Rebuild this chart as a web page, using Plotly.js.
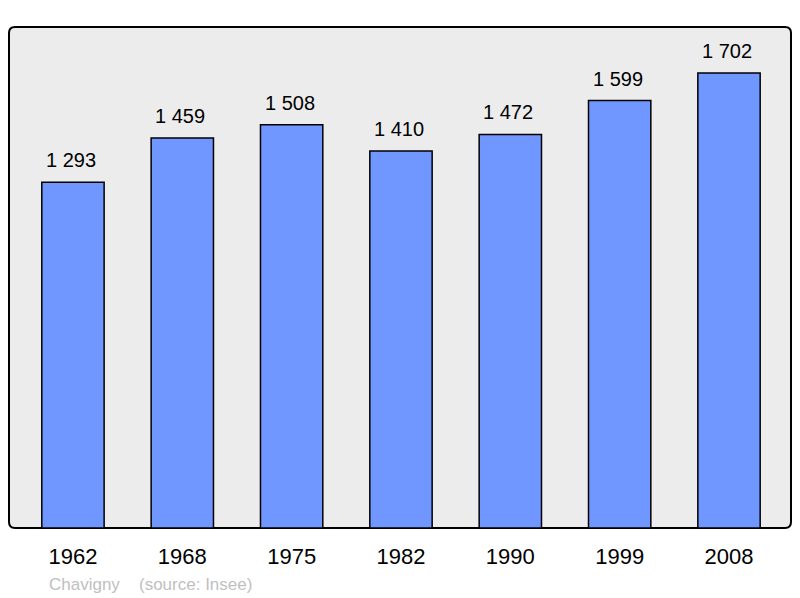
<!DOCTYPE html>
<html>
<head>
<meta charset="utf-8">
<script src="https://cdn.plot.ly/plotly-3.0.1.min.js"></script>
<style>
  html, body { margin: 0; padding: 0; background: #fff; }
  #chart { width: 800px; height: 598px; }
</style>
</head>
<body>
<div id="chart"></div>
<script>
var years = ['1962', '1968', '1975', '1982', '1990', '1999', '2008'];
var population = [1293, 1459, 1508, 1410, 1472, 1599, 1702];
var placeName = 'Chavigny';
var sourceText = '(source: Insee)';

function fmt(n) {
	return String(n).replace(/\B(?=(\d{3})+(?!\d))/g, ' ');
}

// rounded frame around the plot area, in paper units
function roundedFrame(rx, ry) {
	return 'M ' + rx + ' 0 L ' + (1 - rx) + ' 0 Q 1 0 1 ' + ry +
		' L 1 ' + (1 - ry) + ' Q 1 1 ' + (1 - rx) + ' 1' +
		' L ' + rx + ' 1 Q 0 1 0 ' + (1 - ry) +
		' L 0 ' + ry + ' Q 0 0 ' + rx + ' 0 Z';
}

var data = [ {
	x : years,
	y : population,
	type : 'bar',
	width : 0.57,
	marker : {
		color : '#7096ff',
		line : { color : '#000', width : 1.5 }
	},
	hoverinfo : 'none'
} ];

// category axis: annotations use the serial index
var labels = population.map(function(v, i) {
	return {
		x : i,
		y : v,
		text : fmt(v),
		showarrow : false,
		yanchor : 'middle',
		yshift : 22,
		xshift : -2,
		font : { size : 20, color : '#000' }
	};
});

labels.push({
	xref : 'paper', yref : 'paper',
	x : 0.049, y : -0.112,
	xanchor : 'left', yanchor : 'middle',
	text : placeName,
	showarrow : false,
	font : { size : 17, color : '#c0c0c0' }
});
labels.push({
	xref : 'paper', yref : 'paper',
	x : 0.164, y : -0.112,
	xanchor : 'left', yanchor : 'middle',
	text : sourceText,
	showarrow : false,
	font : { size : 17, color : '#c0c0c0' }
});

var layout = {
	width : 800,
	height : 598,
	margin : { l : 9, r : 9, t : 27, b : 70 },
	paper_bgcolor : '#fff',
	plot_bgcolor : 'rgba(0,0,0,0)',
	font : { family : 'Liberation Sans, Arial, sans-serif', color : '#000' },
	showlegend : false,
	xaxis : {
		type : 'category',
		range : [-0.585, 6.567],
		showgrid : false,
		zeroline : false,
		ticks : '',
		tickfont : { size : 22 },
		ticklabelstandoff : 13,
		fixedrange : true
	},
	yaxis : {
		range : [0, 1874],
		showgrid : false,
		zeroline : false,
		showticklabels : false,
		ticks : '',
		fixedrange : true
	},
	shapes : [ {
		type : 'path',
		xref : 'paper', yref : 'paper',
		path : roundedFrame(6 / 782, 6 / 501),
		fillcolor : '#ececec',
		layer : 'below',
		line : { color : '#000', width : 2 }
	} ],
	annotations : labels
};

Plotly.newPlot('chart', data, layout, { displayModeBar : false, staticPlot : true });
</script>
</body>
</html>
